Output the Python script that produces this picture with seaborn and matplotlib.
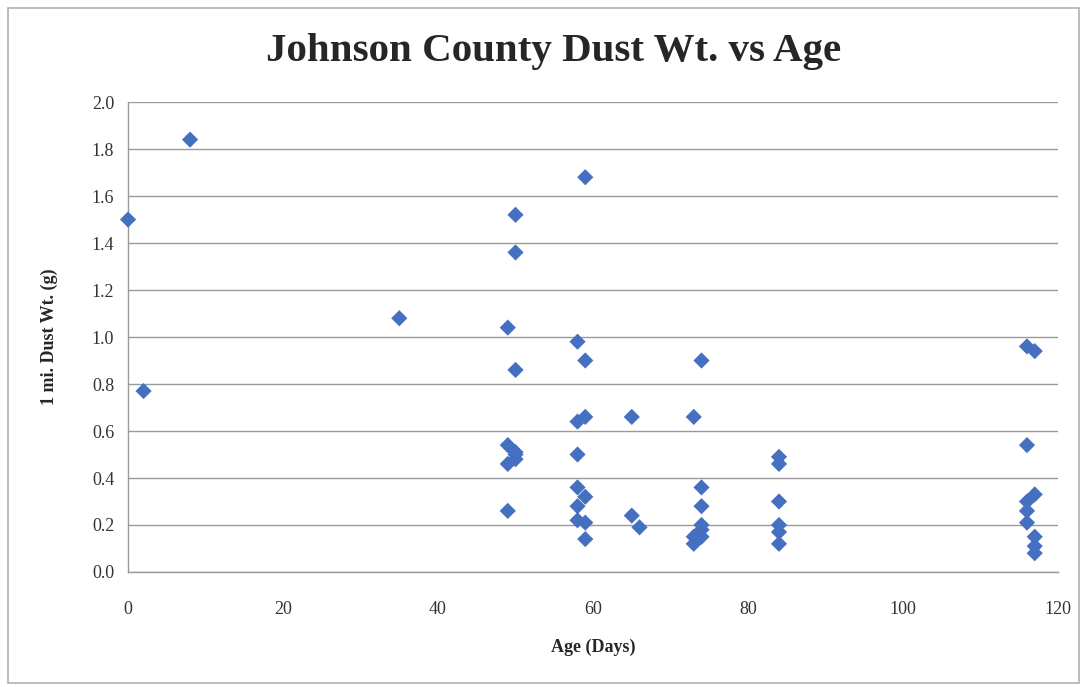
import matplotlib
matplotlib.use("Agg")
import matplotlib.pyplot as plt
import seaborn as sns
import pandas as pd
from matplotlib.patches import Rectangle

age_days = [0, 2, 8, 35,
            49, 49, 49, 49,
            50, 50, 50, 50, 50, 50,
            58, 58, 58, 58, 58, 58,
            59, 59, 59, 59, 59, 59,
            65, 65, 66,
            73, 73, 73,
            74, 74, 74, 74, 74, 74,
            84, 84, 84, 84, 84, 84,
            116, 116, 116, 116, 116,
            117, 117, 117, 117, 117]
dust_wt = [1.50, 0.77, 1.84, 1.08,
           1.04, 0.54, 0.46, 0.26,
           1.52, 1.36, 0.86, 0.51, 0.50, 0.48,
           0.98, 0.64, 0.50, 0.36, 0.28, 0.22,
           1.68, 0.90, 0.66, 0.32, 0.21, 0.14,
           0.66, 0.24, 0.19,
           0.66, 0.15, 0.12,
           0.90, 0.36, 0.28, 0.20, 0.18, 0.15,
           0.49, 0.46, 0.30, 0.20, 0.17, 0.12,
           0.96, 0.54, 0.30, 0.26, 0.21,
           0.94, 0.33, 0.15, 0.11, 0.08]

x_ticks = [0, 20, 40, 60, 80, 100, 120]
y_ticks = [0.0, 0.2, 0.4, 0.6, 0.8, 1.0, 1.2, 1.4, 1.6, 1.8, 2.0]

title = "Johnson County Dust Wt. vs Age"
x_label = "Age (Days)"
y_label = "1 mi. Dust Wt. (g)"

df = pd.DataFrame({"age": age_days, "wt": dust_wt})

sns.set_theme(style="white")
plt.rcParams["font.family"] = ["Liberation Serif", "DejaVu Serif"]

fig = plt.figure(figsize=(10.87, 6.87), dpi=100)
fig.patches.append(Rectangle((0.007, 0.006), 0.986, 0.983, transform=fig.transFigure,
                             fill=False, edgecolor="#b0b0b0", linewidth=1.2))
ax = fig.add_axes([0.1178, 0.1674, 0.8555, 0.6841])

sns.scatterplot(data=df, x="age", y="wt", marker="D", s=68, color="#4570C2",
                edgecolor="none", ax=ax, zorder=3, clip_on=False)

ax.set_xlim(0, 120)
ax.set_ylim(0, 2.0)
ax.set_xticks(x_ticks)
ax.set_yticks(y_ticks)
ax.set_xticklabels([str(v) for v in x_ticks], fontsize=13, color="#333333")
ax.set_yticklabels([f"{v:.1f}" for v in y_ticks], fontsize=13, color="#333333")
ax.tick_params(axis="x", pad=21, length=0)
ax.tick_params(axis="y", pad=10, length=0)
ax.yaxis.grid(True, color="#9a9a9a", linewidth=1.0)
ax.set_axisbelow(True)
for side in ["top", "right"]:
    ax.spines[side].set_visible(False)
for side in ["left", "bottom"]:
    ax.spines[side].set_color("#9a9a9a")
    ax.spines[side].set_linewidth(1.0)

ax.set_xlabel(x_label, fontsize=13, fontweight="bold", labelpad=15)
ax.set_ylabel(y_label, fontsize=13, fontweight="bold", labelpad=24)
fig.text(0.509, 0.925, title, ha="center", va="center", fontsize=29.5, fontweight="bold")

fig.savefig("out.png", dpi=100)
